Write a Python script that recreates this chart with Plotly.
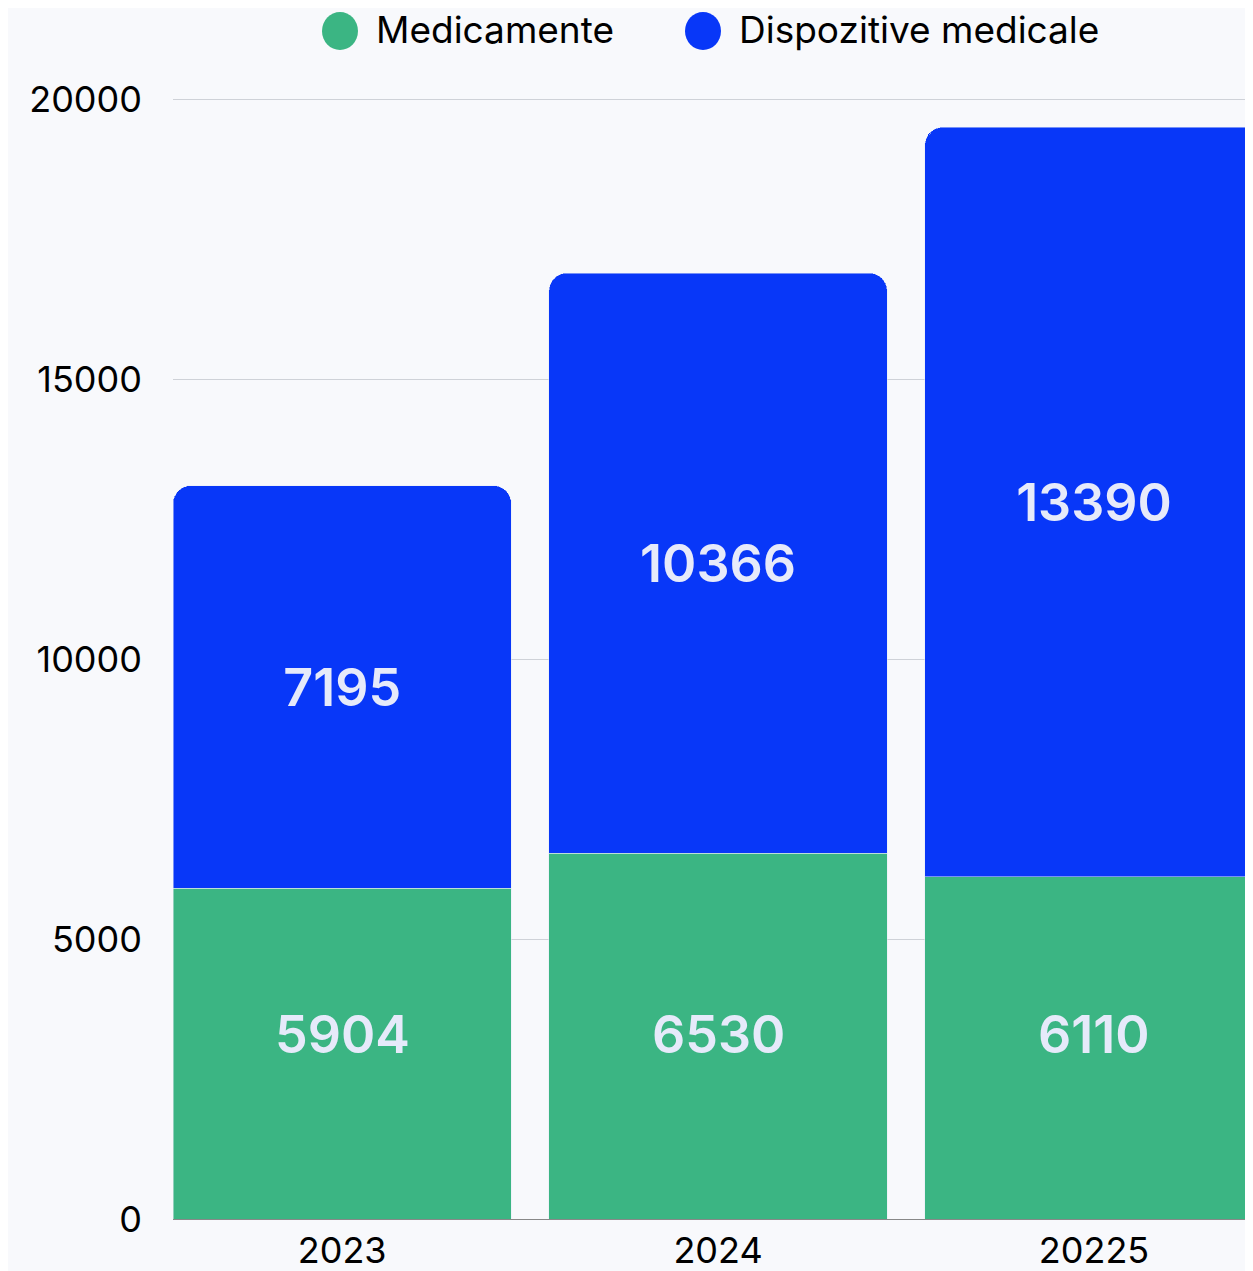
import plotly.graph_objects as go

anos = ["2023", "2024", "20225"]
medicamente = [5904, 6530, 6110]
dispozitive = [7195, 10366, 13390]
serii = ["Medicamente", "Dispozitive medicale"]
culori = ["#3bb583", "#0837f8"]

fig = go.Figure()
fig.add_trace(go.Bar(x=anos, y=medicamente, name=serii[0], marker_color=culori[0],
                     showlegend=False))
fig.add_trace(go.Bar(x=anos, y=dispozitive, name=serii[1], marker_color=culori[1],
                     text=dispozitive, textposition="inside", insidetextanchor="middle",
                     textfont=dict(size=52, color="#e6eafa", family="Inter", weight=600),
                     showlegend=False))

# etichetele verzi stau toate la aceeasi inaltime, ca in original
for i, val in enumerate(medicamente):
    fig.add_annotation(x=i, y=3300, text=str(val), showarrow=False,
                       font=dict(size=52, color="#e6eafa", family="Inter", weight=600))

# legenda desenata manual (cercuri mari + text)
W, H = 1080, 1122
top = 97
leg_x = [340, 703]
for cx, nume, cul in zip(leg_x, serii, culori):
    fig.add_shape(type="circle", xref="paper", yref="paper", xsizemode="pixel", ysizemode="pixel",
                  xanchor=(cx - 173) / W, yanchor=1 + (top - 31) / H,
                  x0=-18, x1=18, y0=-19, y1=19, fillcolor=cul, line_width=0)
    fig.add_annotation(text=nume, xref="paper", yref="paper", x=(cx + 34 - 173) / W,
                       y=1 + (top - 29) / H, xanchor="left", yanchor="middle", showarrow=False,
                       font=dict(size=37, color="#000000", family="Inter"))

# pagina are o margine de 8px, deci figura e mai mica cu 8px
fig.update_layout(
    barmode="stack",
    bargap=0.1,
    barcornerradius=18,
    width=1245, height=1263,
    margin=dict(l=165, r=0, t=89, b=52),
    paper_bgcolor="#f8f9fc",
    plot_bgcolor="#f8f9fc",
    font=dict(family="Inter", size=36, color="#000000"),
)
fig.update_xaxes(type="category", range=[-0.45, 2.423], automargin=False, showgrid=False,
                 showline=True, linecolor="#888888", linewidth=1, ticks="",
                 tickfont=dict(size=36), ticklabelstandoff=0)
# domeniul putin peste 20000 ca sa apara si linia de grila de sus
fig.update_yaxes(range=[0, 20040], dtick=5000, tickformat="d", automargin=False, showgrid=True,
                 gridcolor="#cfd2d8", gridwidth=1, zeroline=False, ticks="",
                 tickfont=dict(size=36), ticklabelstandoff=30)

fig.write_html("out.html")
